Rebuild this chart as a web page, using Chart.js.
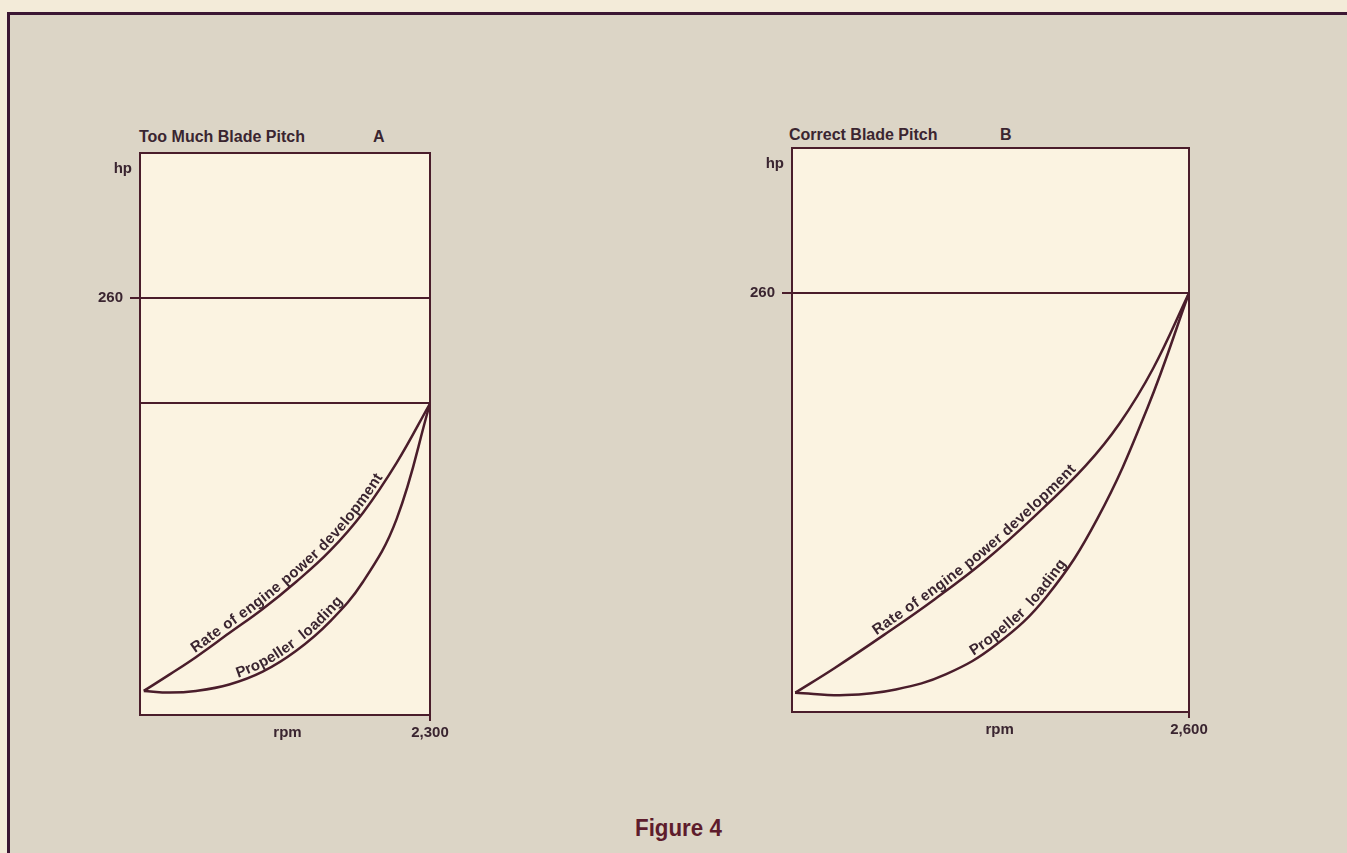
<!DOCTYPE html>
<html>
<head>
<meta charset="utf-8">
<script src="https://cdn.jsdelivr.net/npm/chart.js@4.4.1/dist/chart.umd.min.js"></script>
<style>
  body { margin: 0; width: 1347px; height: 853px; background: #f3ebd9; overflow: hidden; position: relative; font-family: "Liberation Sans", Arial, sans-serif; }
  #frame { position: absolute; left: 7px; top: 12px; width: 1340px; height: 841px; border-top: 3px solid #3b1733; border-left: 3px solid #3b1733; background: #dcd5c6; }
  .title { position: absolute; font-weight: bold; font-size: 16px; line-height: 16px; color: #3a2530; white-space: pre; }
  #fig { position: absolute; left: 635px; top: 816px; font-weight: bold; font-size: 24px; line-height: 24px; color: #5e1c2c; transform: scaleX(0.93); transform-origin: left top; }
  canvas { position: absolute; }
</style>
</head>
<body>
<div id="frame"></div>
<div class="title" style="left:139px; top:129px;">Too Much Blade Pitch</div>
<div class="title" style="left:373px; top:129px;">A</div>
<div class="title" style="left:789px; top:127px;">Correct Blade Pitch</div>
<div class="title" style="left:1000px; top:127px;">B</div>
<div id="fig">Figure 4</div>
<canvas id="chartA" width="420" height="650" style="left:60px; top:120px;"></canvas>
<canvas id="chartB" width="560" height="660" style="left:700px; top:110px;"></canvas>
<script>
// ---- dados (rpm / hp) ----
// A: passo excessivo
const rpmA = [30, 236, 443, 708, 973, 1239, 1504, 1769, 2035, 2300];
const engineA = [15, 25.3, 36, 51, 66, 83, 102, 126, 157, 194];
const propA = [15, 14, 15, 19, 27, 40, 58, 83, 122, 194];

// B: passo correto
const rpmEngineB = [22, 275, 605, 935, 1265, 1595, 1925, 2145, 2364, 2600];
const engineB = [12, 27, 48, 70, 94, 122, 153, 179, 213, 260];
const rpmPropB = [20, 350, 680, 1010, 1340, 1670, 2000, 2329, 2600];
const propB = [12, 10.5, 14, 23.5, 42, 72, 120, 189, 260];

// ticks
const xTicksA = [1170, 2300];
const xLabelsA = ['rpm', '2,300'];
const yTicksA = [194, 260];
const yLabelsA = ['', '260'];

const xTicksB = [1360, 2600];
const xLabelsB = ['rpm', '2,600'];
const yTicksB = [260];
const yLabelsB = ['260'];

const INK = '#4a1d2b';
const TXT = '#3a2530';
const PANEL = '#fbf3e1';
const FONT = 'Liberation Sans, Arial, sans-serif';

function pts(xs, ys) {
    return xs.map((x, i) => ({ x: x, y: ys[i] }));
}

// fundo creme + moldura do gráfico + "hp"
const panelPlugin = {
    id: 'panel',
    beforeDraw(chart) {
        const a = chart.chartArea;
        const ctx = chart.ctx;
        ctx.save();
        ctx.fillStyle = PANEL;
        ctx.fillRect(a.left, a.top, a.right - a.left, a.bottom - a.top);
        ctx.restore();
    },
    afterDraw(chart, args, opts) {
        const a = chart.chartArea;
        const ctx = chart.ctx;
        ctx.save();
        ctx.strokeStyle = INK;
        ctx.lineWidth = 2;
        ctx.strokeRect(a.left, a.top, a.right - a.left, a.bottom - a.top);
        ctx.fillStyle = TXT;
        ctx.font = 'bold 15px ' + FONT;
        ctx.textAlign = 'right';
        ctx.textBaseline = 'middle';
        ctx.fillText('hp', a.left - 8, chart.scales.y.getPixelForValue(opts.hpAt));
        ctx.restore();
    }
};

// texto acompanhando a curva
function samplePath(points) {
    const out = [];
    for (let i = 0; i < points.length - 1; i++) {
        const p0 = points[i], p1 = points[i + 1];
        const c1x = p0.cp2x !== undefined ? p0.cp2x : p0.x;
        const c1y = p0.cp2y !== undefined ? p0.cp2y : p0.y;
        const c2x = p1.cp1x !== undefined ? p1.cp1x : p1.x;
        const c2y = p1.cp1y !== undefined ? p1.cp1y : p1.y;
        for (let k = 0; k < 30; k++) {
            const t = k / 30, u = 1 - t;
            out.push({
                x: u * u * u * p0.x + 3 * u * u * t * c1x + 3 * u * t * t * c2x + t * t * t * p1.x,
                y: u * u * u * p0.y + 3 * u * u * t * c1y + 3 * u * t * t * c2y + t * t * t * p1.y
            });
        }
    }
    const last = points[points.length - 1];
    out.push({ x: last.x, y: last.y });
    return out;
}

const curveTextPlugin = {
    id: 'curveText',
    afterDatasetsDraw(chart, args, opts) {
        const ctx = chart.ctx;
        ctx.save();
        ctx.fillStyle = TXT;
        ctx.font = 'bold 15px ' + FONT;
        ctx.textAlign = 'center';
        ctx.textBaseline = 'alphabetic';
        chart.data.datasets.forEach((ds, i) => {
            const path = samplePath(chart.getDatasetMeta(i).data);
            const cum = [0];
            for (let j = 1; j < path.length; j++) {
                cum.push(cum[j - 1] + Math.hypot(path[j].x - path[j - 1].x, path[j].y - path[j - 1].y));
            }
            const x0 = chart.scales.x.getPixelForValue(opts.starts[i]);
            let j0 = path.findIndex(p => p.x >= x0);
            if (j0 < 0) j0 = 0;
            let s = cum[j0];
            function at(d) {
                let j = 1;
                while (j < path.length - 1 && cum[j] < d) j++;
                const p = path[j - 1], q = path[j];
                const f = (d - cum[j - 1]) / ((cum[j] - cum[j - 1]) || 1);
                return { x: p.x + (q.x - p.x) * f, y: p.y + (q.y - p.y) * f, a: Math.atan2(q.y - p.y, q.x - p.x) };
            }
            for (const ch of ds.label) {
                const w = ctx.measureText(ch).width + opts.spacing;
                const m = at(s + w / 2);
                ctx.save();
                ctx.translate(m.x, m.y);
                ctx.rotate(m.a);
                ctx.fillText(ch, 0, -opts.gap);
                ctx.restore();
                s += w;
            }
        });
        ctx.restore();
    }
};

function montarGrafico(id, cfg) {
    const ds = (label, data) => ({
        label: label,
        data: data,
        borderColor: INK,
        borderWidth: 2.5,
        pointRadius: 0,
        fill: false,
        tension: 0.4
    });
    return new Chart(document.getElementById(id), {
        type: 'line',
        data: {
            datasets: [
                ds('Rate of engine power development', cfg.engine),
                ds('Propeller  loading', cfg.prop)
            ]
        },
        options: {
            responsive: false,
            animation: false,
            devicePixelRatio: 1,
            layout: { padding: cfg.padding },
            plugins: {
                legend: { display: false },
                tooltip: { enabled: false },
                panel: { hpAt: 340 },
                curveText: { starts: cfg.starts, gap: 4, spacing: 0.4 }
            },
            scales: {
                x: {
                    type: 'linear',
                    min: 0,
                    max: cfg.xMax,
                    afterFit(s) { s.height = 40; },
                    afterBuildTicks(s) { s.ticks = cfg.xTicks.map(v => ({ value: v })); },
                    ticks: {
                        autoSkip: false,
                        maxRotation: 0,
                        padding: 3,
                        color: TXT,
                        font: { family: FONT, weight: 'bold', size: 15 },
                        callback: (v, i) => cfg.xLabels[i]
                    },
                    grid: {
                        drawOnChartArea: false,
                        tickLength: 6,
                        lineWidth: 2,
                        tickColor: (c) => c.index === cfg.xTicks.length - 1 ? INK : 'rgba(0,0,0,0)'
                    },
                    border: { display: false }
                },
                y: {
                    type: 'linear',
                    min: 0,
                    max: 350,
                    afterFit(s) { s.width = cfg.yWidth; },
                    afterBuildTicks(s) { s.ticks = cfg.yTicks.map(v => ({ value: v })); },
                    ticks: {
                        autoSkip: false,
                        padding: 7,
                        color: TXT,
                        font: { family: FONT, weight: 'bold', size: 15 },
                        callback: (v, i) => cfg.yLabels[i]
                    },
                    grid: {
                        lineWidth: 2,
                        tickLength: 10,
                        color: INK,
                        tickColor: (c) => cfg.yLabels[c.index] ? INK : 'rgba(0,0,0,0)'
                    },
                    border: { display: false }
                }
            }
        },
        plugins: [panelPlugin, curveTextPlugin]
    });
}

montarGrafico('chartA', {
    engine: pts(rpmA, engineA),
    prop: pts(rpmA, propA),
    xMax: 2300,
    xTicks: xTicksA, xLabels: xLabelsA,
    yTicks: yTicksA, yLabels: yLabelsA,
    yWidth: 80,
    padding: { left: 0, right: 50, top: 33, bottom: 15 },
    starts: [450, 780]
});

montarGrafico('chartB', {
    engine: pts(rpmEngineB, engineB),
    prop: pts(rpmPropB, propB),
    xMax: 2600,
    xTicks: xTicksB, xLabels: xLabelsB,
    yTicks: yTicksB, yLabels: yLabelsB,
    yWidth: 92,
    padding: { left: 0, right: 71, top: 38, bottom: 18 },
    starts: [560, 1200]
});
</script>
</body>
</html>
